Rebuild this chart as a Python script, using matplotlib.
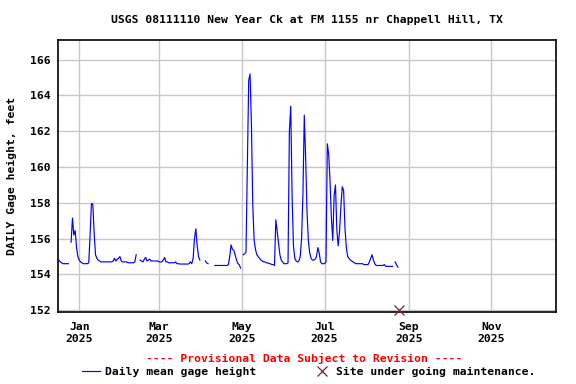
import numpy as np
import pandas as pd
import matplotlib
matplotlib.use("Agg")
import matplotlib.pyplot as plt
import matplotlib.dates as mdates
from matplotlib.lines import Line2D

plt.rcParams.update({
    "font.family": "DejaVu Sans Mono",
    "font.weight": "bold",
    "font.size": 8.2,
})

TITLE = "USGS 08111110 New Year Ck at FM 1155 nr Chappell Hill, TX"
YLABEL = "DAILY Gage height, feet"

# Daily mean gage height (ft), one value per day from 2024-12-17; nan = no data
START_DATE = "2024-12-17"
gage_ft = [
    154.80, 154.70, 154.65, 154.60, 154.60, 154.60, 154.60, 154.60, np.nan,   # Dec 17-25
    155.80, 157.15, 156.20, 156.45, 155.50, 155.00,                          # Dec 26-31
    154.80, 154.70, 154.65, 154.60, 154.60, 154.60, 154.60, 154.65,          # Jan 1-8
    156.20, 157.95, 157.95, 156.30, 155.10, 154.90, 154.80, 154.75,          # Jan 9-16
    154.70, 154.70, 154.70, 154.70, 154.70, 154.70, 154.70, 154.70,          # Jan 17-24
    154.70, 154.75, 154.90, 154.75, 154.85, 154.90, 155.00, 154.75,          # Jan 25-Feb 1
    154.70, 154.70, 154.70, 154.70, 154.65, 154.65, 154.65, 154.65,          # Feb 2-9
    154.65, 154.70, 155.10, np.nan, np.nan, 154.80, 154.75, 154.70,          # Feb 10-17
    154.85, 154.95, 154.75, 154.80, 154.85, 154.75, 154.75, 154.75,          # Feb 18-25
    154.75, 154.75, 154.75, 154.70, 154.70, 154.70, 154.80, 154.95,          # Feb 26-Mar 5
    154.70, 154.70, 154.65, 154.65, 154.65, 154.65, 154.65, 154.70,          # Mar 6-13
    154.60, 154.60, 154.58, 154.58, 154.58, 154.58, 154.58, 154.58,          # Mar 14-21
    154.58, 154.60, 154.70, 154.60, 154.90, 156.00, 156.55, 155.60,          # Mar 22-29
    155.00, 154.80, np.nan, np.nan, np.nan, 154.75, 154.65, 154.60,          # Mar 30-Apr 6
    np.nan, np.nan, np.nan, np.nan, 154.50, 154.50, 154.50, 154.50,          # Apr 7-14
    154.50, 154.50, 154.50, 154.50, 154.50, 154.50, 154.55, 155.00,          # Apr 15-22
    155.65, 155.40, 155.35, 155.10, 154.80, 154.60, 154.55, 154.35,          # Apr 23-30
    np.nan, 155.10, 155.15, 155.25, 160.00, 164.85, 165.20, 162.40,          # May 1-8
    157.90, 155.90, 155.40, 155.10, 155.00, 154.90, 154.80, 154.75,          # May 9-16
    154.70, 154.70, 154.65, 154.65, 154.60, 154.60, 154.55, 154.55,          # May 17-24
    154.50, 157.05, 156.40, 155.75, 155.10, 154.80, 154.70, 154.60,          # May 25-Jun 1
    154.60, 154.60, 154.65, 162.00, 163.40, 158.40, 155.60, 154.90,          # Jun 2-9
    154.75, 154.70, 154.75, 155.00, 156.00, 158.50, 162.90, 160.50,          # Jun 10-17
    157.50, 155.90, 155.20, 154.90, 154.80, 154.80, 154.85, 155.00,          # Jun 18-25
    155.50, 155.20, 154.70, 154.60, 154.60, 154.60, 154.70, 161.30,          # Jun 26-Jul 3
    160.70, 159.20, 157.10, 155.90, 158.40, 159.00, 156.50, 155.60,          # Jul 4-11
    156.40, 157.80, 158.90, 158.70, 156.60, 155.50, 155.00, 154.90,          # Jul 12-19
    154.80, 154.75, 154.70, 154.65, 154.60, 154.60, 154.60, 154.60,          # Jul 20-27
    154.60, 154.60, 154.55, 154.55, 154.55, 154.55, 154.70, 154.90,          # Jul 28-Aug 4
    155.10, 154.80, 154.60, 154.50, 154.50, 154.50, 154.50, 154.50,          # Aug 5-12
    154.50, 154.55, 154.45, 154.45, 154.45, 154.45, 154.45, 154.45,          # Aug 13-20
    np.nan, 154.70, 154.55, 154.40,                                          # Aug 21-24
]

# Site maintenance marker
maint_date = ["2025-08-25"]
maint_ft = [152.0]

YTICKS = [152, 154, 156, 158, 160, 162, 164, 166]
XTICKS = ["2025-01-01", "2025-03-01", "2025-05-01", "2025-07-01",
          "2025-09-01", "2025-11-01"]

dates = pd.date_range(START_DATE, periods=len(gage_ft), freq="D")
values = np.array(gage_ft, dtype=float)

fig = plt.figure(figsize=(5.76, 3.84), dpi=100)
ax = fig.add_axes([58 / 576, 1 - 312 / 384, 498 / 576, 272 / 384])

ax.plot(dates, values, color="#0000ff", linewidth=0.85, zorder=3)
ax.plot(pd.to_datetime(maint_date), maint_ft, linestyle="none", marker="x",
        color="#7a1f4a", markersize=7, markeredgewidth=0.9, zorder=4,
        clip_on=False)

ax.set_xlim(pd.Timestamp("2024-12-16 08:00"), pd.Timestamp("2025-12-18 16:00"))
ax.set_ylim(151.9, 167.1)
ax.set_yticks(YTICKS)
ax.set_xticks(pd.to_datetime(XTICKS))
ax.xaxis.set_major_formatter(mdates.DateFormatter("%b\n%Y"))
for t in ax.get_xticklabels():
    t.set_linespacing(1.25)

ax.tick_params(axis="both", length=0, labelsize=8.2)
ax.tick_params(axis="x", pad=7)
ax.tick_params(axis="y", pad=5)
ax.grid(True, color="#c8c8c8", linewidth=1.0, zorder=0)
ax.set_axisbelow(True)
for s in ax.spines.values():
    s.set_linewidth(1.2)
    s.set_color("black")

ax.set_ylabel(YLABEL, fontsize=8.2, fontweight="bold")
ax.yaxis.set_label_coords(-0.082, 0.5)

fig.text(307 / 576, 1 - 20 / 384, TITLE, ha="center", va="center",
         fontsize=8.2, fontweight="bold")
fig.text(304 / 576, 1 - 358 / 384,
         "---- Provisional Data Subject to Revision ----",
         ha="center", va="center", color="#ff0000", fontsize=8.2,
         fontweight="bold")

handles = [
    Line2D([], [], color="#0000ff", linewidth=0.85),
    Line2D([], [], color="#7a1f4a", linestyle="none", marker="x",
           markersize=7, markeredgewidth=0.9),
]
fig.legend(handles, ["Daily mean gage height", "Site under going maintenance."],
           loc="center", bbox_to_anchor=(309 / 576, 1 - 372 / 384), ncol=2,
           frameon=False, handlelength=1.5, handletextpad=0.5,
           columnspacing=5.0, borderpad=0, fontsize=8.2)

fig.savefig("out.png", dpi=100)
